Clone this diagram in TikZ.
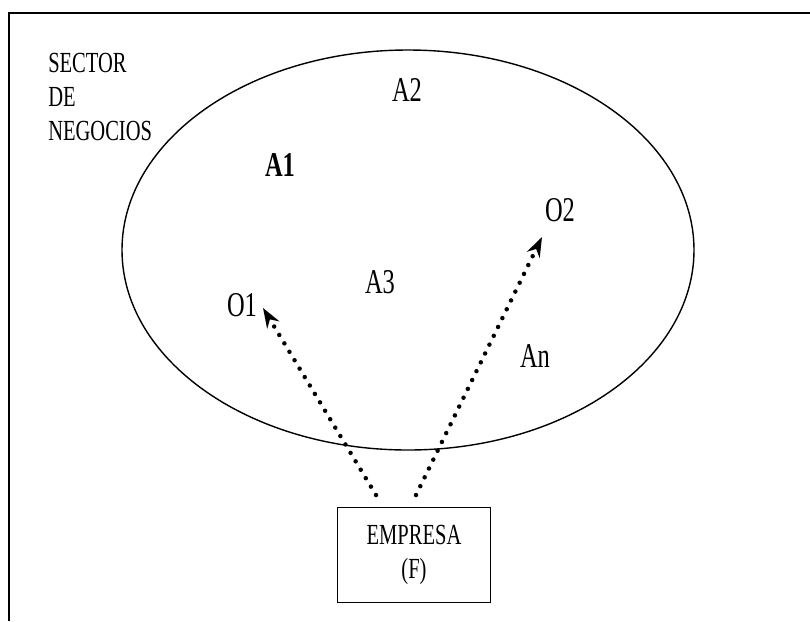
\documentclass[tikz,border=0pt]{standalone}
\usepackage{fontspec}
\setmainfont{Liberation Serif}
\usetikzlibrary{arrows.meta}
\tikzset{
	lbl/.style={inner sep=0pt, yscale=1.42, font=\fontsize{17.4}{20}\selectfont},
	outlbl/.style={inner sep=0pt, yscale=1.42, font=\fontsize{14.6}{16.8}\selectfont},
	dotarrow/.style={line width=3.2pt, dash pattern=on 0pt off 7pt, line cap=round, -{Stealth[length=14pt,width=10pt]}}
}

\begin{document}
\begin{tikzpicture}[x=0.025cm, y=-0.025cm]
		%%%%% START %%%%%
		\useasboundingbox (0,0) rectangle (810,621);
		
		\draw[line width=1.2pt] (9,621) -- (9,13) -- (810,13);
		
		\draw[line width=1pt] (408,250) ellipse (286 and 200);
		
		\node[outlbl, anchor=west, align=left] (sector) at (48,97) {SECTOR\\DE\\NEGOCIOS};
		
		\node[lbl] (a1) at (280,165) {\textbf{A1}};
		\node[lbl] (a2) at (407,90) {A2};
		\node[lbl] (a3) at (380,282) {A3};
		\node[lbl] (o1) at (242,305) {O1};
		\node[lbl] (o2) at (560,210) {O2};
		\node[lbl] (an) at (535,356) {An};
		
		\node[outlbl, draw, line width=0.8pt, align=center, minimum width=108.8pt, minimum height=47.6pt] (empresa) at (414,555) {EMPRESA\\(F)};
		
		\coordinate (s1) at (376,495);
		\coordinate (t1) at (263,308);
		\coordinate (s2) at (416,495);
		\coordinate (t2) at (542,237);
		\draw[dotarrow] (s1) -- (t1);
		\draw[dotarrow] (s2) -- (t2);
		
		%%%%% END %%%%%
	\end{tikzpicture}
\end{document}
